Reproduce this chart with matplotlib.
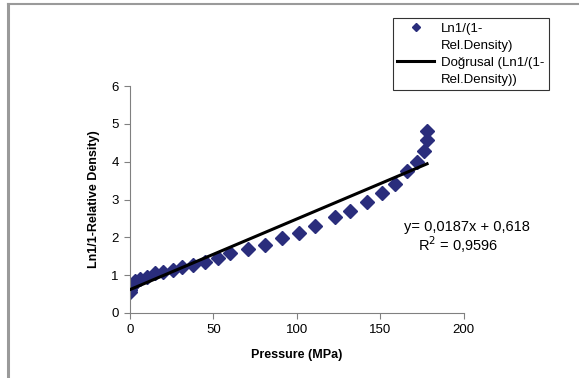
import numpy as np
import matplotlib
matplotlib.use("Agg")
import matplotlib.pyplot as plt
from matplotlib.lines import Line2D

plt.rcParams['font.family'] = ['Liberation Sans', 'DejaVu Sans']

# pressure (MPa) and ln(1/(1-rel. density))
pressure = [0, 0, 0.5, 1, 2, 3, 6, 10, 15, 20, 26, 31, 38, 45, 53, 60, 71, 81,
            91, 101, 111, 123, 132, 142, 151, 159, 166, 172, 176, 178, 178]
ln_density = [0.55, 0.62, 0.68, 0.72, 0.78, 0.85, 0.91, 0.95, 1.05, 1.09, 1.14,
              1.21, 1.27, 1.35, 1.45, 1.58, 1.69, 1.80, 1.98, 2.12, 2.30, 2.54,
              2.70, 2.93, 3.17, 3.41, 3.76, 4.00, 4.29, 4.58, 4.82]

slope = 0.0187
intercept = 0.618
r2 = 0.9596

dark_blue = '#2a2d7c'

fig = plt.figure(figsize=(5.79, 3.78), dpi=100)
ax = fig.add_axes([0.2245, 0.172, 0.5765, 0.600])

ax.plot(pressure, ln_density, linestyle='none', marker='D', markersize=7,
        color=dark_blue, markeredgecolor=dark_blue, zorder=2)

xfit = np.array([min(pressure), max(pressure)])
ax.plot(xfit, slope * xfit + intercept, color='black', linewidth=2.2, zorder=3)

ax.set_xlim(0, 200)
ax.set_ylim(0, 6)
ax.set_xticks([0, 50, 100, 150, 200])
ax.set_yticks(range(0, 7))
for side in ['top', 'right']:
    ax.spines[side].set_visible(False)
for side in ['left', 'bottom']:
    ax.spines[side].set_color('#808080')
    ax.spines[side].set_linewidth(0.8)
ax.tick_params(direction='out', length=4, width=0.8, color='#808080',
               labelsize=9.5, pad=4)

ax.set_xlabel('Pressure (MPa)', fontsize=9, fontweight='bold', labelpad=9)
ax.set_ylabel('Ln1/1-Relative Density)', fontsize=9, fontweight='bold', labelpad=8)

ax.text(0.806, 0.399, 'y= 0,0187x + 0,618', transform=fig.transFigure,
        fontsize=10.5, ha='center', va='center')
ax.text(0.791, 0.354, 'R$^2$ = 0,9596', transform=fig.transFigure,
        fontsize=10.5, ha='center', va='center')

blank = Line2D([], [], linestyle='none')
handles = [Line2D([], [], linestyle='none', marker='D', markersize=4.5,
                  color=dark_blue),
           blank,
           Line2D([], [], color='black', linewidth=2.2),
           blank]
labels = ['Ln1/(1-', 'Rel.Density)', 'Doğrusal (Ln1/(1-', 'Rel.Density))']
leg = fig.legend(handles, labels,
                 loc='upper left', bbox_to_anchor=(0.678, 0.953), fontsize=9.5,
                 frameon=True, fancybox=False, handlelength=2.8,
                 handletextpad=0.5, borderpad=0.35, labelspacing=0.36,
                 borderaxespad=0)
leg.get_frame().set_edgecolor('black')
leg.get_frame().set_linewidth(0.8)

# outer chart border (only left and top show in the crop)
fig.add_artist(Line2D([8 / 579, 8 / 579], [0, 1 - 4 / 378], color='#9a9a9a',
                      linewidth=2.2, transform=fig.transFigure))
fig.add_artist(Line2D([8 / 579, 1], [1 - 4 / 378, 1 - 4 / 378], color='#9a9a9a',
                      linewidth=1.5, transform=fig.transFigure))

fig.savefig('out.png', dpi=100)
